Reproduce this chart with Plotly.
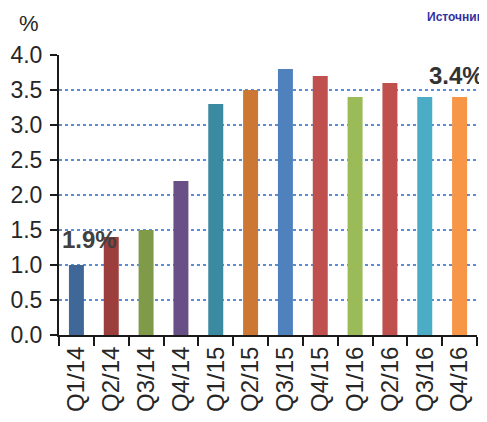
import plotly.graph_objects as go

categories = ["Q1/14", "Q2/14", "Q3/14", "Q4/14", "Q1/15", "Q2/15",
              "Q3/15", "Q4/15", "Q1/16", "Q2/16", "Q3/16", "Q4/16"]
values = [1.0, 1.4, 1.5, 2.2, 3.3, 3.5, 3.8, 3.7, 3.4, 3.6, 3.4, 3.4]
bar_colors = ["#3f6898", "#9c3f3c", "#7f9a48", "#684f86", "#3a8aa1", "#cc7834",
              "#4f81bd", "#c0504d", "#9bbb59", "#c0504d", "#4bacc6", "#f79646"]
y_ticks = [0.0, 0.5, 1.0, 1.5, 2.0, 2.5, 3.0, 3.5, 4.0]
y_tick_text = ["0.0", "0.5", "1.0", "1.5", "2.0", "2.5", "3.0", "3.5", "4.0"]

# the page body adds an 8px margin, so the figure is drawn 8px in from the corner
OFF = 8
W, H = 487 - OFF, 422 - OFF
ml, mr, mt, mb = 59 - OFF, 10, 55 - OFF, 87
pw, ph = W - ml - mr, H - mt - mb

def px(xs):
    # screen pixel x -> paper coordinate
    return (xs - OFF - ml) / pw

def py(ys):
    # screen pixel y -> paper coordinate
    return (H - mb - (ys - OFF)) / ph

fig = go.Figure()
fig.add_trace(go.Bar(
    x=categories, y=values,
    marker=dict(color=bar_colors, line=dict(width=0)),
    hoverinfo="skip",
))

font_main = "Liberation Sans, Arial, sans-serif"
annotations = [
    dict(text="%", x=px(29), y=py(OFF + 1), xref="paper", yref="paper",
         showarrow=False, font=dict(size=22, color="#262626", family=font_main),
         xanchor="center", yanchor="top"),
    dict(text="<b>Источник</b>", x=px(486), y=py(OFF), xref="paper", yref="paper",
         showarrow=False, font=dict(size=12, color="#3232a0", family=font_main),
         xanchor="right", yanchor="top"),
    dict(text="<b>1.9%</b>", x=px(89), y=py(239), xref="paper", yref="paper",
         showarrow=False, font=dict(size=24, color="#404040", family=font_main),
         xanchor="center", yanchor="middle"),
    dict(text="<b>3.4%</b>", x=px(486), y=py(75), xref="paper", yref="paper",
         showarrow=False, font=dict(size=24, color="#333333", family=font_main),
         xanchor="right", yanchor="middle"),
]

fig.update_layout(
    width=W, height=H,
    margin=dict(l=ml, r=mr, t=mt, b=mb, pad=0, autoexpand=False),
    paper_bgcolor="white", plot_bgcolor="white",
    bargap=0.57,
    showlegend=False,
    annotations=annotations,
    font=dict(family=font_main, color="#262626"),
)
fig.update_xaxes(
    type="category",
    automargin=False,
    tickson="boundaries",
    ticks="outside", ticklen=9, tickwidth=2, tickcolor="#1a1a1a",
    showline=True, linecolor="#1a1a1a", linewidth=2,
    tickangle=-90,
    tickfont=dict(size=24, color="#262626", family=font_main),
    showgrid=False,
    range=[-0.5, 11.5],
)
fig.update_yaxes(
    automargin=False,
    range=[0, 4.0],
    tickvals=y_ticks, ticktext=y_tick_text,
    ticks="outside", ticklen=7, tickwidth=2, tickcolor="#1a1a1a",
    showline=True, linecolor="#1a1a1a", linewidth=2,
    tickfont=dict(size=23, color="#262626", family=font_main),
    showgrid=True, gridcolor="#5b8ed6", gridwidth=1.5, griddash="dot",
    zeroline=False,
    ticklabelstandoff=3,
)

fig.write_html("out.html")
